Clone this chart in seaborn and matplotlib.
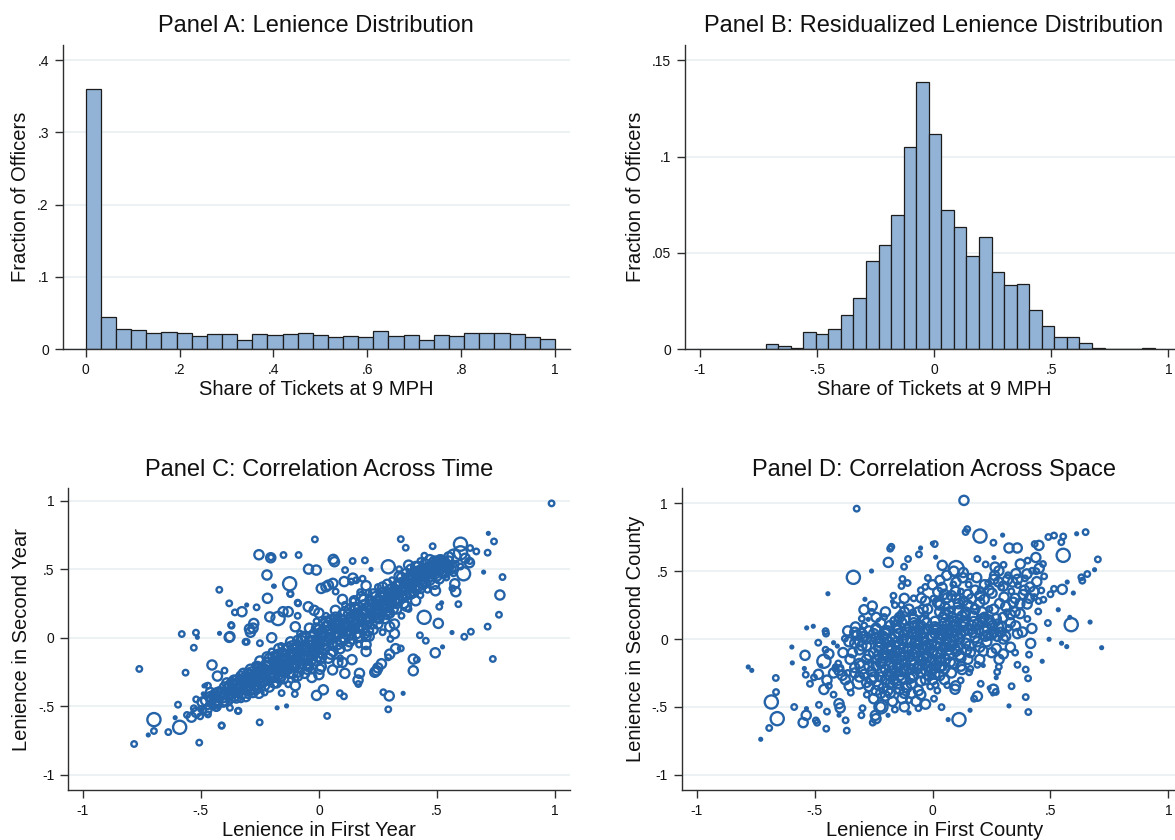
import numpy as np
import pandas as pd
import matplotlib
matplotlib.use("Agg")
import matplotlib.pyplot as plt
import seaborn as sns
from matplotlib.ticker import FixedLocator, FuncFormatter

# ---------------- Panel A: share of tickets at 9 MPH (31 equal bins on [0, 1])
lenience_edges = np.linspace(0.0, 1.0, 32)
lenience_share = [0.3594, 0.0447, 0.0276, 0.0272, 0.0226, 0.0244, 0.0226, 0.0180,
                  0.0217, 0.0207, 0.0134, 0.0217, 0.0203, 0.0217, 0.0230, 0.0194,
                  0.0175, 0.0180, 0.0175, 0.0258, 0.0180, 0.0203, 0.0124, 0.0194,
                  0.0189, 0.0230, 0.0226, 0.0230, 0.0207, 0.0166, 0.0138]

# ---------------- Panel B: residualized lenience (31 bins)
resid_edges = np.linspace(-0.7195, 0.9420, 32)
resid_share = [0.0029, 0.0016, 0.0007, 0.0090, 0.0081, 0.0106, 0.0180, 0.0265,
               0.0460, 0.0543, 0.0696, 0.1048, 0.1389, 0.1116, 0.0725, 0.0633,
               0.0483, 0.0581, 0.0400, 0.0332, 0.0339, 0.0204, 0.0121, 0.0062,
               0.0062, 0.0031, 0.0009, 0.0, 0.0, 0.0, 0.0009]

# ---------------- Panel C: (first-year lenience, second-year lenience, ticket-weight class)
time_obs = [
    (-0.783, -0.776, 2), (-0.761, -0.228, 2), (-0.699, -0.598, 4), (-0.699, -0.681, 2),
    (-0.723, -0.710, 1), (-0.638, -0.689, 2), (-0.590, -0.654, 4), (-0.609, -0.584, 1),
    (-0.597, -0.489, 2), (-0.507, -0.766, 2), (-0.412, -0.640, 2), (-0.343, -0.535, 2),
    (-0.251, -0.618, 2), (-0.177, -0.512, 1), (-0.137, -0.498, 1), (-0.581, 0.027, 2),
    (-0.530, -0.073, 2), (-0.521, 0.037, 2), (-0.515, 0.003, 1), (-0.565, -0.255, 2),
    (-0.453, -0.199, 3), (-0.422, 0.350, 2), (-0.421, 0.032, 1), (-0.380, 0.251, 2),
    (-0.380, 0.003, 3), (-0.372, 0.093, 2), (-0.356, 0.185, 2), (-0.326, 0.190, 3),
    (-0.306, 0.239, 1), (-0.264, 0.222, 2), (-0.254, 0.606, 3), (-0.203, 0.587, 2),
    (-0.150, 0.604, 2), (-0.086, 0.604, 2), (-0.017, 0.718, 2), (-0.220, 0.458, 3),
    (-0.192, 0.377, 1), (-0.124, 0.394, 4), (-0.120, 0.319, 2), (-0.044, 0.501, 3),
    (-0.011, 0.494, 3), (-0.218, 0.288, 3), (-0.294, 0.064, 3), (-0.276, 0.104, 3),
    (-0.311, -0.030, 2), (-0.152, 0.190, 3), (-0.088, 0.251, 2), (-0.480, -0.345, 1),
    (-0.487, -0.352, 1), (-0.530, -0.515, 2), (-0.559, -0.564, 2), (-0.540, -0.580, 3),
    (-0.503, -0.574, 2), (-0.434, -0.512, 2), (-0.377, -0.512, 2), (-0.435, -0.479, 3),
    (-0.520, -0.545, 3), (-0.470, -0.560, 2), (-0.490, -0.530, 2),
    (0.061, 0.572, 3), (0.143, 0.560, 2), (0.195, 0.565, 2), (0.111, 0.494, 2),
    (0.221, 0.499, 1), (0.294, 0.518, 4), (0.347, 0.720, 2), (0.368, 0.657, 2),
    (0.482, 0.668, 2), (0.600, 0.683, 4), (0.572, 0.596, 4), (0.715, 0.621, 2),
    (0.718, 0.762, 1), (0.742, 0.703, 2), (0.778, 0.443, 2), (0.767, 0.312, 3),
    (0.763, 0.168, 2), (0.715, 0.081, 2), (0.737, -0.155, 2), (0.698, 0.479, 1),
    (0.644, 0.044, 2), (0.616, 0.007, 2), (0.564, 0.038, 1), (0.524, -0.067, 1),
    (0.493, -0.110, 3), (0.506, 0.105, 3), (0.446, 0.149, 4), (0.453, -0.022, 2),
    (0.428, 0.018, 2), (0.510, 0.226, 2), (0.520, 0.255, 1), (0.494, 0.343, 3),
    (0.591, 0.245, 2), (0.667, 0.630, 2), (0.641, 0.655, 2), (0.638, 0.548, 3),
    (0.613, 0.467, 4), (0.576, 0.394, 3), (0.580, 0.336, 3), (0.566, 0.360, 2),
    (0.513, 0.569, 3), (0.542, 0.511, 3), (0.447, 0.599, 2), (0.066, 0.555, 3),
    (0.185, 0.431, 2), (0.144, 0.435, 3), (0.137, 0.410, 2), (0.059, 0.397, 3),
    (0.030, 0.372, 3), (0.010, 0.360, 3), (0.040, 0.384, 3), (0.071, 0.337, 2),
    (0.107, 0.410, 3), (0.158, 0.420, 2), (0.146, 0.270, 2), (0.175, 0.333, 2),
    (-0.204, 0.584, 3), (-0.189, 0.376, 1), (-0.122, 0.321, 2), (-0.090, 0.256, 2),
    (-0.045, 0.226, 3), (-0.020, 0.200, 3), (-0.370, 0.088, 2), (-0.377, 0.008, 3),
    (-0.279, 0.070, 3), (-0.290, 0.040, 3), (-0.208, 0.152, 3), (-0.173, 0.140, 4),
    (-0.130, 0.190, 3), (-0.090, 0.160, 2), (-0.306, -0.030, 2), (-0.250, -0.040, 2),
    (0.357, -0.406, 1), (0.298, -0.425, 3), (0.294, -0.523, 2), (0.273, -0.398, 2),
    (0.400, -0.241, 3), (0.400, -0.156, 3), (0.415, -0.160, 2), (0.347, -0.078, 2),
    (0.325, -0.080, 3), (0.300, -0.120, 3), (0.294, -0.143, 2), (0.244, -0.241, 3),
    (0.250, -0.220, 3), (0.265, -0.190, 3), (0.167, -0.338, 2), (0.166, -0.309, 3),
    (0.172, -0.260, 3), (0.106, -0.428, 2), (0.089, -0.405, 2), (0.035, -0.571, 2),
    (0.019, -0.380, 3), (-0.010, -0.421, 3), (0.004, -0.230, 3), (0.058, -0.235, 3),
    (0.110, -0.260, 3), (-0.030, -0.290, 3), (-0.102, -0.411, 2), (-0.158, -0.404, 2),
    (-0.254, -0.406, 3), (-0.412, -0.643, 2), (-0.341, -0.533, 2), (0.303, -0.009, 2),
    (0.320, 0.030, 3), (0.213, 0.010, 3), (0.140, -0.160, 3), (0.080, -0.180, 3),
    (0.200, -0.100, 3), (0.237, -0.252, 3), (-0.470, -0.350, 2), (-0.430, -0.280, 3),
    (-0.400, -0.240, 2), (-0.520, -0.450, 2), (-0.490, -0.410, 1), (-0.460, -0.420, 1),
    (0.986, 0.981, 2),
]

# dense diagonal band of Panel C
time_band = [
    (-0.50, -0.52, 2), (-0.48, -0.46, 3), (-0.47, -0.50, 2), (-0.46, -0.43, 3), (-0.45, -0.48, 2),
    (-0.44, -0.41, 3), (-0.43, -0.46, 3), (-0.42, -0.38, 2), (-0.41, -0.44, 3), (-0.40, -0.36, 3),
    (-0.39, -0.42, 2), (-0.39, -0.33, 3), (-0.38, -0.47, 2), (-0.37, -0.38, 3), (-0.36, -0.31, 3),
    (-0.36, -0.43, 3), (-0.35, -0.35, 3), (-0.34, -0.29, 2), (-0.34, -0.40, 3), (-0.33, -0.45, 2),
    (-0.32, -0.33, 3), (-0.32, -0.26, 3), (-0.31, -0.38, 3), (-0.30, -0.30, 3), (-0.30, -0.42, 2),
    (-0.29, -0.23, 3), (-0.29, -0.35, 3), (-0.28, -0.28, 3), (-0.28, -0.40, 3), (-0.27, -0.20, 2),
    (-0.27, -0.32, 3), (-0.26, -0.25, 3), (-0.26, -0.37, 3), (-0.25, -0.29, 3), (-0.25, -0.17, 3),
    (-0.24, -0.33, 3), (-0.24, -0.22, 3), (-0.23, -0.40, 2), (-0.23, -0.27, 3), (-0.22, -0.14, 3),
    (-0.22, -0.31, 3), (-0.21, -0.20, 3), (-0.21, -0.36, 3), (-0.20, -0.25, 3), (-0.20, -0.10, 2),
    (-0.19, -0.29, 3), (-0.19, -0.17, 3), (-0.18, -0.33, 3), (-0.18, -0.22, 3), (-0.17, -0.12, 3),
    (-0.17, -0.27, 3), (-0.16, -0.19, 3), (-0.16, -0.06, 2), (-0.15, -0.30, 3), (-0.15, -0.15, 3),
    (-0.14, -0.23, 3), (-0.14, -0.09, 3), (-0.13, -0.34, 2), (-0.13, -0.18, 3), (-0.12, -0.03, 3),
    (-0.12, -0.12, 3), (-0.11, -0.26, 3), (-0.11, -0.08, 3), (-0.10, -0.16, 3), (-0.10, -0.30, 2),
    (-0.09, -0.02, 3), (-0.09, -0.11, 3), (-0.08, -0.22, 3), (-0.08, 0.03, 2), (-0.07, -0.06, 3),
    (-0.07, -0.15, 3), (-0.06, -0.26, 3), (-0.06, 0.01, 3), (-0.05, -0.09, 3), (-0.05, -0.19, 3),
    (-0.04, 0.07, 3), (-0.04, -0.03, 3), (-0.03, -0.13, 3), (-0.03, -0.24, 2), (-0.02, 0.03, 3),
    (-0.02, -0.07, 3), (-0.01, 0.12, 2), (-0.01, -0.17, 3), (0.00, -0.02, 3), (0.00, 0.06, 3),
    (0.01, -0.11, 3), (0.01, -0.21, 3), (0.02, 0.02, 3), (0.02, 0.10, 3), (0.03, -0.06, 3),
    (0.03, 0.16, 2), (0.04, -0.15, 3), (0.04, 0.05, 3), (0.05, -0.01, 3), (0.05, 0.13, 3),
    (0.06, -0.10, 3), (0.06, 0.08, 3), (0.07, 0.20, 3), (0.07, 0.02, 3), (0.08, -0.05, 3),
    (0.08, 0.12, 3), (0.09, -0.15, 2), (0.09, 0.06, 3), (0.10, 0.17, 3), (0.10, 0.00, 3),
    (0.11, 0.24, 2), (0.11, 0.10, 3), (0.12, -0.06, 3), (0.12, 0.04, 3), (0.13, 0.14, 3),
    (0.13, 0.21, 3), (0.14, -0.01, 3), (0.14, 0.08, 3), (0.15, 0.27, 3), (0.15, 0.17, 3),
    (0.16, 0.03, 3), (0.16, 0.11, 3), (0.17, 0.22, 3), (0.17, -0.05, 2), (0.18, 0.15, 3),
    (0.18, 0.30, 3), (0.19, 0.07, 3), (0.19, 0.24, 3), (0.20, 0.18, 3), (0.20, 0.01, 3),
    (0.21, 0.12, 3), (0.21, 0.33, 2), (0.22, 0.21, 3), (0.22, 0.27, 3), (0.23, 0.06, 3),
    (0.23, 0.16, 3), (0.24, 0.30, 3), (0.24, 0.24, 3), (0.25, 0.10, 3), (0.25, 0.37, 2),
    (0.26, 0.19, 3), (0.26, 0.27, 3), (0.27, 0.33, 3), (0.27, 0.04, 2), (0.28, 0.23, 3),
    (0.28, 0.14, 3), (0.29, 0.39, 3), (0.29, 0.29, 3), (0.30, 0.18, 3), (0.30, 0.35, 3),
    (0.31, 0.25, 3), (0.31, 0.42, 2), (0.32, 0.31, 3), (0.32, 0.10, 3), (0.33, 0.21, 3),
    (0.33, 0.38, 3), (0.34, 0.28, 3), (0.34, 0.45, 3), (0.35, 0.34, 3), (0.35, 0.16, 2),
    (0.36, 0.41, 3), (0.36, 0.25, 3), (0.37, 0.47, 3), (0.37, 0.31, 3), (0.38, 0.37, 3),
    (0.38, 0.21, 2), (0.39, 0.43, 3), (0.39, 0.50, 3), (0.40, 0.33, 3), (0.40, 0.40, 3),
    (0.41, 0.47, 3), (0.41, 0.27, 3), (0.42, 0.37, 3), (0.42, 0.52, 3), (0.43, 0.44, 3),
    (0.43, 0.31, 2), (0.44, 0.49, 3), (0.44, 0.39, 3), (0.45, 0.54, 3), (0.45, 0.45, 3),
    (0.46, 0.35, 2), (0.46, 0.50, 3), (0.47, 0.42, 3), (0.48, 0.53, 3), (0.48, 0.47, 3),
    (0.49, 0.39, 3), (0.50, 0.51, 3), (0.50, 0.45, 3), (0.51, 0.55, 3), (0.52, 0.48, 3),
    (0.53, 0.52, 3), (0.54, 0.44, 2), (0.55, 0.56, 3), (0.56, 0.50, 3), (0.58, 0.54, 2),
    (0.57, 0.47, 2), (0.60, 0.52, 2), (0.62, 0.58, 3), (0.60, 0.62, 4), (0.64, 0.56, 2),
    (0.52, 0.58, 2), (0.47, 0.57, 3), (0.43, 0.56, 2), (0.38, 0.53, 3), (0.34, 0.50, 2),
    (-0.495, -0.47, 3), (-0.475, -0.53, 3), (-0.455, -0.45, 3), (-0.435, -0.50, 3), (-0.415, -0.40, 3),
    (-0.405, -0.47, 3), (-0.385, -0.37, 3), (-0.375, -0.44, 3), (-0.365, -0.34, 3), (-0.355, -0.40, 3),
    (-0.345, -0.33, 3), (-0.335, -0.37, 3), (-0.325, -0.41, 3), (-0.315, -0.29, 3), (-0.305, -0.35, 3),
    (-0.295, -0.39, 3), (-0.285, -0.25, 3), (-0.275, -0.30, 3), (-0.265, -0.35, 3), (-0.255, -0.22, 3),
    (-0.245, -0.27, 3), (-0.235, -0.31, 3), (-0.225, -0.20, 3), (-0.215, -0.24, 3), (-0.205, -0.29, 3),
    (-0.195, -0.14, 3), (-0.185, -0.19, 3), (-0.175, -0.23, 3), (-0.165, -0.30, 3), (-0.155, -0.11, 3),
    (-0.145, -0.17, 3), (-0.135, -0.21, 3), (-0.125, -0.26, 3), (-0.115, -0.06, 3), (-0.105, -0.12, 3),
    (-0.095, -0.19, 3), (-0.085, -0.25, 3), (-0.075, -0.02, 3), (-0.065, -0.09, 3), (-0.055, -0.14, 3),
    (-0.045, -0.21, 3), (-0.035, 0.01, 3), (-0.025, -0.05, 3), (-0.015, -0.10, 3), (-0.005, -0.14, 3),
    (0.005, 0.03, 3), (0.015, -0.03, 3), (0.025, -0.08, 3), (0.035, 0.09, 3), (0.045, 0.00, 3),
    (0.055, -0.05, 3), (0.065, 0.11, 3), (0.075, 0.04, 3), (0.085, 0.09, 3), (0.095, -0.03, 3),
    (0.105, 0.13, 3), (0.115, 0.05, 3), (0.125, 0.17, 3), (0.135, 0.02, 3), (0.145, 0.13, 3),
    (0.155, 0.21, 3), (0.165, 0.07, 3), (0.175, 0.15, 3), (0.185, 0.20, 3), (0.195, 0.03, 3),
    (0.205, 0.14, 3), (0.215, 0.24, 3), (0.225, 0.10, 3), (0.235, 0.19, 3), (0.245, 0.27, 3),
    (0.255, 0.14, 3), (0.265, 0.23, 3), (0.275, 0.30, 3), (0.285, 0.19, 3), (0.295, 0.26, 3),
    (0.305, 0.32, 3), (0.315, 0.21, 3), (0.325, 0.35, 3), (0.335, 0.27, 3), (0.345, 0.40, 3),
    (0.355, 0.30, 3), (0.365, 0.36, 3), (0.375, 0.43, 3), (0.385, 0.33, 3), (0.395, 0.46, 3),
    (0.405, 0.36, 3), (0.415, 0.43, 3), (0.425, 0.49, 3), (0.435, 0.40, 3), (0.445, 0.46, 3),
    (0.455, 0.51, 3), (0.465, 0.44, 3), (0.475, 0.49, 3), (0.485, 0.55, 3), (0.495, 0.47, 3),
    (0.505, 0.53, 3), (0.515, 0.50, 3), (0.525, 0.55, 3), (0.535, 0.48, 3), (0.545, 0.53, 3),
    (-0.46, -0.40, 3), (-0.44, -0.47, 3), (-0.42, -0.43, 3), (-0.40, -0.41, 3), (-0.38, -0.35, 3),
    (-0.37, -0.41, 3), (-0.35, -0.31, 3), (-0.34, -0.36, 3), (-0.33, -0.28, 3), (-0.31, -0.33, 3),
    (-0.30, -0.26, 3), (-0.29, -0.31, 3), (-0.27, -0.27, 3), (-0.26, -0.21, 3), (-0.25, -0.33, 3),
    (-0.23, -0.23, 3), (-0.22, -0.18, 3), (-0.21, -0.28, 3), (-0.19, -0.21, 3), (-0.18, -0.13, 3),
    (-0.17, -0.19, 3), (-0.16, -0.28, 3), (-0.15, -0.20, 3), (-0.14, -0.13, 3), (-0.13, -0.23, 3),
    (-0.12, -0.17, 3), (-0.11, -0.11, 3), (-0.10, -0.21, 3), (-0.09, -0.06, 3), (-0.08, -0.14, 3),
    (-0.07, -0.19, 3), (-0.06, -0.07, 3), (-0.05, -0.13, 3), (-0.04, -0.09, 3), (-0.03, -0.02, 3),
    (-0.02, -0.12, 3), (-0.01, -0.04, 3), (0.00, -0.08, 3), (0.01, 0.04, 3), (0.02, -0.05, 3),
    (0.03, 0.01, 3), (0.04, 0.09, 3), (0.05, 0.03, 3), (0.06, -0.05, 3), (0.07, 0.07, 3),
    (0.08, 0.02, 3), (0.09, 0.11, 3), (0.10, 0.05, 3), (0.11, -0.01, 3), (0.12, 0.09, 3),
    (0.13, 0.05, 3), (0.14, 0.15, 3), (0.15, 0.10, 3), (0.16, 0.18, 3), (0.17, 0.08, 3),
    (0.18, 0.12, 3), (0.19, 0.19, 3), (0.20, 0.13, 3), (0.21, 0.22, 3), (0.22, 0.14, 3),
    (0.23, 0.25, 3), (0.24, 0.17, 3), (0.25, 0.21, 3), (0.26, 0.30, 3), (0.27, 0.24, 3),
    (0.28, 0.32, 3), (0.29, 0.22, 3), (0.30, 0.28, 3), (0.31, 0.36, 3), (0.32, 0.27, 3),
    (0.33, 0.32, 3), (0.34, 0.38, 3), (0.35, 0.31, 3), (0.36, 0.37, 3), (0.37, 0.40, 3),
    (0.38, 0.44, 3), (0.39, 0.37, 3), (0.40, 0.45, 3), (0.41, 0.41, 3), (0.42, 0.46, 3),
    (0.43, 0.49, 3), (0.44, 0.43, 3), (0.45, 0.49, 3), (0.46, 0.46, 3), (0.47, 0.52, 3),
    (0.49, 0.50, 3), (0.50, 0.55, 3), (0.51, 0.49, 3), (0.53, 0.56, 3), (0.55, 0.52, 3),
    (-0.43, -0.40, 3), (-0.40, -0.46, 3), (-0.37, -0.33, 3), (-0.35, -0.44, 3), (-0.33, -0.31, 3),
    (-0.31, -0.43, 3), (-0.29, -0.27, 3), (-0.27, -0.38, 3), (-0.25, -0.24, 3), (-0.23, -0.35, 3),
    (-0.21, -0.15, 3), (-0.19, -0.33, 3), (-0.17, -0.08, 3), (-0.15, -0.25, 3), (-0.13, -0.07, 3),
    (-0.11, -0.21, 3), (-0.09, -0.28, 3), (-0.07, 0.00, 3), (-0.05, -0.23, 3), (-0.03, -0.16, 3),
    (-0.01, 0.07, 3), (0.01, -0.15, 3), (0.03, 0.12, 3), (0.05, -0.12, 3), (0.07, 0.15, 3),
    (0.09, -0.08, 3), (0.11, 0.19, 3), (0.13, -0.03, 3), (0.15, 0.22, 3), (0.17, 0.01, 3),
    (0.19, 0.28, 3), (0.21, 0.05, 3), (0.23, 0.32, 3), (0.25, 0.15, 3), (0.27, 0.37, 3),
    (0.29, 0.17, 3), (0.31, 0.30, 3), (0.33, 0.25, 3), (0.35, 0.44, 3), (0.37, 0.23, 3),
    (0.39, 0.32, 3), (0.41, 0.52, 3), (0.43, 0.36, 3), (0.45, 0.40, 3), (0.47, 0.47, 3),
    (0.49, 0.56, 3), (0.51, 0.43, 3), (0.53, 0.47, 3), (0.55, 0.59, 3), (0.57, 0.51, 3),
    (-0.10, -0.35, 3), (0.00, -0.27, 3), (0.10, -0.18, 3), (0.20, -0.05, 3), (0.30, 0.08, 3),
    (-0.20, 0.00, 3), (-0.10, 0.08, 3), (0.00, 0.18, 3), (0.10, 0.28, 3), (0.20, 0.38, 3),
]

# ---------------- Panel D: (first-county lenience, second-county lenience, ticket-weight class)
space_obs = [
    (-0.322, 0.961, 2), (-0.336, 0.455, 4), (-0.444, 0.334, 1), (-0.188, 0.565, 3),
    (-0.180, 0.666, 2), (-0.175, 0.680, 2), (-0.259, 0.501, 1), (-0.104, 0.590, 2),
    (-0.058, 0.624, 2), (-0.051, 0.671, 1), (-0.001, 0.705, 1), (-0.121, 0.533, 2),
    (-0.128, 0.443, 2), (-0.106, 0.413, 2), (-0.132, 0.391, 2), (-0.287, 0.293, 1),
    (-0.256, 0.243, 3), (-0.291, 0.216, 3), (-0.258, 0.200, 2), (-0.273, 0.145, 1),
    (-0.205, 0.162, 2), (-0.170, 0.276, 1), (-0.166, 0.319, 2), (-0.132, 0.252, 2),
    (-0.135, 0.186, 2), (-0.150, 0.150, 2), (-0.327, 0.089, 3), (-0.360, 0.060, 3),
    (-0.372, 0.003, 2), (-0.355, -0.020, 3), (-0.310, -0.020, 3), (-0.283, 0.000, 3),
    (-0.240, 0.003, 3), (-0.240, 0.070, 3), (-0.200, 0.060, 3), (-0.230, -0.060, 3),
    (-0.298, -0.206, 4), (-0.312, -0.317, 4), (-0.354, -0.346, 3), (-0.347, -0.395, 2),
    (-0.383, -0.268, 3), (-0.397, -0.232, 3), (-0.411, -0.207, 2), (-0.420, -0.410, 2),
    (-0.397, -0.476, 3), (-0.392, -0.508, 3), (-0.397, -0.561, 1), (-0.369, -0.599, 2),
    (-0.364, -0.675, 2), (-0.451, -0.661, 2), (-0.448, -0.535, 2), (-0.482, -0.485, 2),
    (-0.495, -0.600, 2), (-0.490, -0.617, 2), (-0.536, -0.562, 3), (-0.549, -0.616, 3),
    (-0.535, -0.513, 1), (-0.587, -0.501, 2), (-0.659, -0.587, 4), (-0.684, -0.464, 4),
    (-0.693, -0.656, 2), (-0.729, -0.739, 1), (-0.664, -0.391, 2), (-0.665, -0.287, 2),
    (-0.782, -0.206, 1), (-0.767, -0.231, 1), (-0.595, -0.176, 1), (-0.597, -0.059, 1),
    (-0.541, -0.120, 3), (-0.544, -0.217, 1), (-0.538, -0.263, 2), (-0.520, -0.330, 2),
    (-0.503, -0.283, 2), (-0.484, -0.260, 3), (-0.474, -0.197, 1), (-0.461, -0.164, 4),
    (-0.454, -0.079, 2), (-0.440, -0.110, 3), (-0.485, -0.027, 2), (-0.534, 0.082, 1),
    (-0.506, 0.094, 1), (-0.454, 0.058, 2), (-0.452, 0.040, 2), (-0.420, -0.027, 1),
    (-0.404, -0.052, 1), (-0.448, -0.303, 3), (-0.461, -0.372, 3), (-0.440, -0.345, 2),
    (-0.412, -0.218, 2), (-0.391, -0.212, 2), (-0.360, -0.250, 2), (-0.330, -0.250, 3),
    (-0.302, -0.562, 2), (-0.254, -0.616, 2), (-0.240, -0.587, 3), (-0.243, -0.563, 3),
    (-0.219, -0.500, 4), (-0.189, -0.562, 1), (-0.279, -0.410, 2), (-0.297, -0.510, 2),
    (-0.100, -0.545, 1), (-0.060, -0.510, 2), (-0.030, -0.480, 3),
    (0.133, 1.022, 3), (0.140, 0.789, 2), (0.147, 0.810, 2), (0.201, 0.759, 4),
    (0.297, 0.766, 1), (0.258, 0.710, 2), (0.324, 0.671, 3), (0.359, 0.671, 3),
    (0.009, 0.700, 2), (0.013, 0.603, 1), (0.041, 0.543, 3), (0.031, 0.433, 3),
    (0.100, 0.519, 5), (0.130, 0.490, 3), (0.190, 0.590, 2), (0.225, 0.550, 2),
    (0.265, 0.530, 3), (0.260, 0.600, 1), (0.491, 0.752, 2), (0.515, 0.763, 2),
    (0.554, 0.756, 2), (0.611, 0.776, 1), (0.649, 0.788, 2), (0.546, 0.714, 2),
    (0.554, 0.617, 4), (0.451, 0.690, 3), (0.433, 0.700, 2), (0.701, 0.587, 2),
    (0.687, 0.511, 1), (0.656, 0.479, 2), (0.635, 0.430, 2), (0.631, 0.455, 2),
    (0.571, 0.420, 1), (0.597, 0.339, 1), (0.550, 0.366, 3), (0.515, 0.370, 2),
    (0.500, 0.330, 2), (0.470, 0.290, 2), (0.533, 0.216, 1), (0.668, 0.125, 1),
    (0.588, 0.106, 4), (0.582, 0.160, 1), (0.489, 0.118, 2), (0.494, -0.002, 1),
    (0.547, -0.031, 1), (0.569, -0.056, 1), (0.717, -0.064, 1), (0.465, -0.164, 1),
    (0.409, -0.115, 2), (0.416, -0.032, 3), (0.405, -0.290, 2), (0.395, -0.225, 2),
    (0.395, -0.428, 2), (0.406, -0.538, 2), (0.324, -0.493, 1), (0.335, -0.348, 2),
    (0.360, -0.190, 2), (0.190, -0.422, 3), (0.176, -0.440, 2), (0.159, -0.525, 1),
    (0.112, -0.594, 4), (0.066, -0.594, 1), (0.038, -0.502, 2), (0.095, -0.370, 3),
    (0.098, -0.345, 3), (0.258, -0.370, 3), (0.268, -0.390, 2), (0.240, -0.360, 1),
    (0.255, -0.405, 1), (0.204, -0.330, 2), (0.270, -0.285, 1), (0.274, -0.243, 2),
    (0.281, -0.205, 2), (0.282, -0.150, 3), (0.215, -0.195, 1), (0.190, -0.190, 2),
    (0.155, -0.245, 2), (0.125, -0.225, 3), (0.119, -0.305, 2), (0.062, -0.340, 2),
    (0.013, -0.340, 2), (0.006, -0.440, 2), (0.041, -0.210, 2), (0.300, -0.110, 3),
    (0.330, -0.060, 3), (0.350, -0.100, 2), (0.300, 0.000, 3),
    (0.062, 0.304, 3), (0.083, 0.218, 2), (0.097, 0.352, 3), (0.124, 0.281, 2), (0.138, 0.176, 3),
    (0.153, 0.402, 2), (0.166, 0.297, 3), (0.178, 0.238, 2), (0.187, 0.453, 3), (0.204, 0.361, 2),
    (0.213, 0.148, 3), (0.219, 0.292, 3), (0.236, 0.414, 2), (0.241, 0.221, 2), (0.252, 0.338, 3),
    (0.263, 0.468, 3), (0.274, 0.123, 2), (0.284, 0.262, 3), (0.291, 0.381, 2), (0.303, 0.309, 3),
    (0.314, 0.197, 2), (0.318, 0.437, 3), (0.334, 0.352, 2), (0.342, 0.271, 3), (0.353, 0.482, 3),
    (0.362, 0.398, 2), (0.371, 0.187, 3), (0.384, 0.328, 3), (0.392, 0.447, 2), (0.401, 0.258, 3),
    (0.413, 0.383, 3), (0.422, 0.503, 2), (0.431, 0.309, 2), (0.442, 0.423, 3), (0.452, 0.521, 3),
    (0.461, 0.358, 2), (0.473, 0.462, 2), (0.352, 0.097, 3), (0.381, 0.052, 3), (0.322, 0.081, 2),
    (0.262, 0.053, 3), (0.224, 0.021, 3), (0.183, 0.082, 2), (0.421, 0.078, 3), (0.402, 0.148, 2),
    (0.448, 0.203, 2), (0.128, 0.452, 3), (0.088, 0.402, 2), (0.052, 0.181, 3), (0.031, 0.262, 3),
    (0.022, 0.347, 3), (0.003, 0.298, 2), (-0.021, 0.221, 3), (-0.048, 0.302, 3), (-0.083, 0.197, 2),
    (-0.031, 0.384, 2), (0.372, 0.553, 3), (0.403, 0.578, 2), (0.301, 0.547, 2), (0.281, 0.502, 3),
    (0.438, 0.601, 3), (0.468, 0.553, 2), (0.243, 0.118, 3), (0.292, 0.093, 3),
]

# central mass of Panel D
space_core = [
    (-0.25, -0.10, 3), (-0.24, -0.20, 3), (-0.23, -0.02, 3), (-0.22, -0.28, 3), (-0.21, -0.14, 3),
    (-0.20, 0.04, 3), (-0.20, -0.22, 3), (-0.19, -0.07, 3), (-0.18, -0.33, 3), (-0.18, -0.17, 3),
    (-0.17, 0.00, 3), (-0.16, -0.25, 3), (-0.16, -0.10, 3), (-0.15, 0.08, 3), (-0.15, -0.38, 2),
    (-0.14, -0.19, 3), (-0.14, -0.04, 3), (-0.13, -0.29, 3), (-0.13, 0.12, 3), (-0.12, -0.12, 3),
    (-0.12, 0.03, 3), (-0.11, -0.23, 3), (-0.11, -0.36, 3), (-0.10, -0.07, 3), (-0.10, 0.09, 3),
    (-0.09, -0.16, 3), (-0.09, -0.01, 3), (-0.08, -0.27, 3), (-0.08, 0.15, 3), (-0.07, -0.10, 3),
    (-0.07, 0.05, 3), (-0.06, -0.20, 3), (-0.06, -0.03, 3), (-0.05, -0.31, 3), (-0.05, 0.10, 3),
    (-0.04, -0.13, 3), (-0.04, 0.01, 3), (-0.03, -0.23, 3), (-0.03, 0.18, 2), (-0.02, -0.06, 3),
    (-0.02, 0.07, 3), (-0.01, -0.17, 3), (-0.01, -0.35, 2), (0.00, 0.02, 3), (0.00, -0.10, 3),
    (0.01, 0.13, 3), (0.01, -0.26, 3), (0.02, -0.03, 3), (0.02, 0.08, 3), (0.03, -0.16, 3),
    (0.03, 0.20, 3), (0.04, 0.03, 3), (0.04, -0.08, 3), (0.05, -0.22, 3), (0.05, 0.12, 3),
    (0.06, -0.01, 3), (0.06, 0.24, 2), (0.07, -0.12, 3), (0.07, 0.07, 3), (0.08, 0.16, 3),
    (0.08, -0.05, 3), (0.09, -0.18, 3), (0.09, 0.02, 3), (0.10, 0.10, 3), (0.10, -0.09, 3),
    (0.11, 0.21, 3), (0.12, 0.04, 3), (0.12, -0.14, 3), (0.13, 0.13, 3), (0.14, -0.03, 3),
    (0.15, 0.07, 3), (0.15, 0.25, 3), (0.16, -0.10, 3), (0.17, 0.17, 3), (0.18, 0.01, 3),
    (0.19, 0.11, 3), (0.20, -0.06, 3), (0.21, 0.20, 3), (0.22, 0.06, 3), (0.23, -0.02, 3),
    (0.24, 0.14, 3), (0.25, 0.03, 3), (0.26, 0.22, 3), (0.27, -0.07, 3), (0.28, 0.09, 3),
    (0.30, 0.16, 3), (0.31, 0.02, 3), (0.33, 0.12, 3), (0.35, 0.20, 3), (0.36, 0.04, 3),
    (-0.30, -0.05, 3), (-0.32, 0.03, 3), (-0.28, -0.15, 3), (-0.27, 0.06, 3), (-0.34, -0.10, 3),
    (-0.29, 0.10, 2), (-0.26, -0.24, 3), (-0.31, -0.18, 3), (-0.23, -0.34, 3), (-0.20, -0.42, 3),
    (-0.17, -0.46, 3), (-0.13, -0.44, 3), (-0.09, -0.40, 3), (-0.07, -0.46, 3), (-0.25, -0.44, 3),
    (-0.22, -0.50, 3), (-0.19, -0.38, 3), (-0.27, -0.35, 3), (-0.16, -0.52, 2), (-0.12, -0.50, 3),
    (-0.06, 0.20, 3), (-0.10, 0.22, 3), (-0.14, 0.16, 3), (-0.18, 0.10, 3), (-0.22, 0.12, 3),
    (-0.03, 0.28, 3), (0.02, 0.27, 3), (-0.08, 0.30, 2), (0.00, 0.40, 3), (-0.05, 0.36, 2),
    (0.08, 0.32, 3), (0.12, 0.35, 2), (0.04, 0.38, 3), (0.18, 0.36, 3), (0.10, 0.42, 3),
    (0.22, 0.40, 3), (0.16, 0.46, 2), (0.06, 0.47, 3), (0.20, 0.27, 3), (0.13, 0.28, 3),
    (-0.235, -0.15, 3), (-0.225, -0.06, 3), (-0.215, -0.24, 3), (-0.205, -0.10, 3), (-0.195, 0.00, 3),
    (-0.185, -0.20, 3), (-0.175, -0.08, 3), (-0.165, -0.30, 3), (-0.155, -0.15, 3), (-0.145, 0.04, 3),
    (-0.135, -0.24, 3), (-0.125, -0.07, 3), (-0.115, -0.17, 3), (-0.105, 0.05, 3), (-0.095, -0.29, 3),
    (-0.085, -0.11, 3), (-0.075, -0.03, 3), (-0.065, -0.22, 3), (-0.055, 0.06, 3), (-0.045, -0.16, 3),
    (-0.035, -0.08, 3), (-0.025, 0.12, 3), (-0.015, -0.27, 3), (-0.005, -0.04, 3), (0.005, 0.07, 3),
    (0.015, -0.19, 3), (0.025, 0.00, 3), (0.035, -0.11, 3), (0.045, 0.16, 3), (0.055, -0.04, 3),
    (0.065, 0.05, 3), (0.075, -0.17, 3), (0.085, 0.10, 3), (0.095, -0.07, 3), (0.105, 0.03, 3),
    (0.115, -0.12, 3), (0.125, 0.17, 3), (0.135, 0.06, 3), (0.145, -0.08, 3), (0.165, 0.10, 3),
    (-0.21, -0.36, 3), (-0.18, -0.27, 3), (-0.15, -0.33, 3), (-0.12, -0.40, 3), (-0.09, -0.33, 3),
    (-0.06, -0.38, 3), (-0.03, -0.30, 3), (0.00, -0.30, 3), (0.03, -0.27, 3), (-0.26, -0.30, 3),
    (-0.28, -0.05, 3), (-0.26, 0.00, 3), (-0.24, 0.08, 3), (-0.30, 0.04, 3), (-0.33, -0.03, 3),
    (-0.27, -0.12, 3), (-0.22, -0.18, 3), (-0.29, -0.26, 3), (-0.24, -0.38, 3), (-0.20, -0.30, 3),
    (-0.04, 0.22, 3), (-0.08, 0.12, 3), (-0.12, 0.20, 3), (-0.16, 0.13, 3), (0.03, 0.25, 3),
    (0.07, 0.20, 3), (0.11, 0.26, 3), (0.14, 0.20, 3), (0.18, 0.22, 3), (0.22, 0.16, 3),
    (-0.33, 0.05, 3), (-0.31, -0.08, 3), (-0.29, 0.02, 3), (-0.27, -0.20, 3), (-0.25, 0.04, 3),
    (-0.23, -0.12, 3), (-0.21, 0.02, 3), (-0.19, -0.26, 3), (-0.17, -0.13, 3), (-0.15, -0.02, 3),
    (-0.13, -0.16, 3), (-0.11, -0.01, 3), (-0.09, -0.22, 3), (-0.07, -0.07, 3), (-0.05, 0.03, 3),
    (-0.03, -0.18, 3), (-0.01, -0.07, 3), (0.01, 0.04, 3), (0.03, -0.21, 3), (0.05, 0.07, 3),
    (0.07, -0.03, 3), (0.09, 0.13, 3), (0.11, -0.05, 3), (0.13, 0.09, 3), (0.15, -0.15, 3),
    (0.17, 0.05, 3), (0.19, -0.02, 3), (0.21, 0.12, 3), (0.23, 0.08, 3), (0.25, -0.10, 3),
    (0.27, 0.15, 3), (0.29, 0.05, 3), (0.31, 0.24, 3), (0.33, 0.18, 3), (0.35, 0.30, 3),
    (0.37, 0.26, 3), (0.39, 0.36, 3), (0.41, 0.30, 3), (0.43, 0.35, 3), (0.45, 0.28, 2),
    (0.20, 0.32, 3), (0.24, 0.36, 3), (0.28, 0.42, 3), (0.32, 0.47, 2), (0.36, 0.44, 3),
    (0.40, 0.48, 3), (0.44, 0.50, 2), (0.26, 0.44, 3), (0.30, 0.39, 3), (0.34, 0.42, 3),
    (-0.38, -0.10, 3), (-0.40, -0.18, 2), (-0.42, -0.25, 3), (-0.37, -0.30, 3), (-0.35, -0.15, 3),
    (-0.33, -0.21, 3), (-0.31, -0.28, 3), (-0.28, -0.32, 3), (-0.25, -0.28, 3), (-0.22, -0.40, 3),
    (-0.18, -0.40, 3), (-0.14, -0.37, 3), (-0.10, -0.45, 2), (-0.05, -0.41, 3), (0.02, -0.38, 2),
    (0.05, -0.30, 3), (0.08, -0.25, 3), (0.12, -0.20, 3), (0.16, -0.22, 2), (0.20, -0.15, 3),
    (-0.20, 0.20, 3), (-0.16, 0.25, 2), (-0.12, 0.30, 3), (-0.24, 0.16, 3), (-0.30, 0.15, 2),
    (0.05, 0.33, 3), (0.10, 0.30, 3), (0.15, 0.33, 3), (-0.02, 0.45, 2), (0.09, 0.50, 3),
    (-0.22, -0.03, 3), (-0.20, -0.12, 3), (-0.19, 0.06, 3), (-0.18, -0.05, 3), (-0.17, -0.21, 3),
    (-0.16, 0.02, 3), (-0.15, -0.09, 3), (-0.14, -0.27, 3), (-0.13, -0.01, 3), (-0.12, -0.22, 3),
    (-0.11, 0.07, 3), (-0.10, -0.13, 3), (-0.09, 0.04, 3), (-0.08, -0.19, 3), (-0.07, -0.01, 3),
    (-0.06, -0.13, 3), (-0.05, -0.25, 3), (-0.04, 0.05, 3), (-0.03, -0.05, 3), (-0.02, -0.20, 3),
    (-0.01, 0.02, 3), (0.00, -0.15, 3), (0.01, 0.09, 3), (0.02, -0.11, 3), (0.03, 0.04, 3),
    (0.04, -0.20, 3), (0.05, -0.06, 3), (0.06, 0.10, 3), (0.07, -0.08, 3), (0.08, 0.05, 3),
    (-0.215, -0.17, 3), (-0.185, -0.02, 3), (-0.165, -0.12, 3), (-0.145, -0.21, 3), (-0.125, 0.00, 3),
    (-0.105, -0.09, 3), (-0.085, -0.28, 3), (-0.065, 0.02, 3), (-0.045, -0.06, 3), (-0.025, -0.14, 3),
    (-0.005, -0.22, 3), (0.015, -0.05, 3), (0.035, 0.00, 3), (0.055, -0.15, 3), (0.075, 0.12, 3),
    (-0.195, -0.30, 3), (-0.155, 0.10, 3), (-0.115, 0.14, 3), (-0.075, 0.10, 3), (-0.035, 0.14, 3),
    (0.095, 0.06, 3), (0.115, 0.00, 3), (0.135, 0.11, 3), (0.155, -0.05, 3), (0.175, 0.13, 3),
    (0.195, 0.07, 3), (0.215, -0.09, 3), (0.235, 0.03, 3), (0.255, 0.10, 3), (0.275, 0.02, 3),
]

time_all = time_obs + time_band
space_all = space_obs + space_core
time_first, time_second, time_weight = (list(v) for v in zip(*time_all))
space_first, space_second, space_weight = (list(v) for v in zip(*space_all))

# ---------------- styling
sns.set_theme(style="ticks")
plt.rcParams["font.family"] = ["Liberation Sans", "DejaVu Sans"]

BAR_FILL = "#92B2D6"
BAR_EDGE = "#1C1C1C"
DOT = "#2463A8"
GRID = "#EAF1F3"
AXIS = "#2E2E2E"
SIZE_MAP = {1: 4, 2: 16, 3: 44, 4: 90, 5: 120}
RING_WIDTH = 1.7


def short_label(v, _pos=None):
    s = f"{round(v, 4):g}"
    if s.startswith("-0."):
        s = "-" + s[2:]
    elif s.startswith("0."):
        s = s[1:]
    return s


def dress(ax, xticks, yticks, xlim, ylim, title, xlabel, ylabel):
    ax.set_xlim(*xlim)
    ax.set_ylim(*ylim)
    ax.xaxis.set_major_locator(FixedLocator(xticks))
    ax.yaxis.set_major_locator(FixedLocator(yticks))
    ax.xaxis.set_major_formatter(FuncFormatter(short_label))
    ax.yaxis.set_major_formatter(FuncFormatter(short_label))
    for side in ("top", "right"):
        ax.spines[side].set_visible(False)
    for side in ("left", "bottom"):
        ax.spines[side].set_color(AXIS)
        ax.spines[side].set_linewidth(1.0)
    ax.tick_params(direction="out", length=6, width=1.0, color=AXIS,
                   labelsize=10, pad=4, labelcolor="#111111")
    ax.set_axisbelow(True)
    ax.yaxis.grid(True, color=GRID, linewidth=1.3)
    ax.xaxis.grid(False)
    ax.set_facecolor("white")
    ax.set_title(title, fontsize=17, pad=9, color="#111111")
    ax.set_xlabel(xlabel, fontsize=14.5, labelpad=2, color="#111111")
    ax.set_ylabel(ylabel, fontsize=14.5, labelpad=5, color="#111111")


fig = plt.figure(figsize=(11.75, 8.4), dpi=100)
fig.patch.set_facecolor("white")
axA = fig.add_axes([0.0534, 0.5842, 0.4317, 0.3623])
axB = fig.add_axes([0.5827, 0.5842, 0.4240, 0.3623])
axC = fig.add_axes([0.0581, 0.0595, 0.4270, 0.3595])
axD = fig.add_axes([0.5802, 0.0595, 0.4300, 0.3595])

# Panel A and B histograms: one weighted observation per bin centre
hist_a = pd.DataFrame({
    "centre": 0.5 * (lenience_edges[:-1] + lenience_edges[1:]),
    "share": lenience_share,
})
hist_b = pd.DataFrame({
    "centre": 0.5 * (resid_edges[:-1] + resid_edges[1:]),
    "share": resid_share,
})
sns.histplot(data=hist_a, x="centre", weights="share", bins=lenience_edges.tolist(),
             ax=axA, color=BAR_FILL, edgecolor=BAR_EDGE, linewidth=0.9, alpha=1.0)
sns.histplot(data=hist_b, x="centre", weights="share", bins=resid_edges.tolist(),
             ax=axB, color=BAR_FILL, edgecolor=BAR_EDGE, linewidth=0.9, alpha=1.0)

dress(axA, [0, 0.2, 0.4, 0.6, 0.8, 1.0], [0, 0.1, 0.2, 0.3, 0.4],
      (-0.049, 1.032), (0, 0.421), "Panel A: Lenience Distribution",
      "Share of Tickets at 9 MPH", "Fraction of Officers")
dress(axB, [-1, -0.5, 0, 0.5, 1], [0, 0.05, 0.1, 0.15],
      (-1.065, 1.062), (0, 0.158), "Panel B: Residualized Lenience Distribution",
      "Share of Tickets at 9 MPH", "Fraction of Officers")

# Panel C and D scatters with hollow circles sized by ticket weight
for ax, xs, ys, ws in ((axC, time_first, time_second, time_weight),
                       (axD, space_first, space_second, space_weight)):
    sns.scatterplot(x=xs, y=ys, size=ws, sizes=SIZE_MAP, ax=ax, legend=False,
                    marker="o", color=DOT, linewidth=RING_WIDTH)
    pc = ax.collections[-1]
    pc.set_facecolor("none")
    pc.set_edgecolor(DOT)
    pc.set_linewidth(RING_WIDTH)

dress(axC, [-1, -0.5, 0, 0.5, 1], [-1, -0.5, 0, 0.5, 1],
      (-1.062, 1.064), (-1.112, 1.093), "Panel C: Correlation Across Time",
      "Lenience in First Year", "Lenience in Second Year")
dress(axD, [-1, -0.5, 0, 0.5, 1], [-1, -0.5, 0, 0.5, 1],
      (-1.064, 1.079), (-1.113, 1.113), "Panel D: Correlation Across Space",
      "Lenience in First County", "Lenience in Second County")

fig.savefig("out.png", dpi=100, facecolor="white")
